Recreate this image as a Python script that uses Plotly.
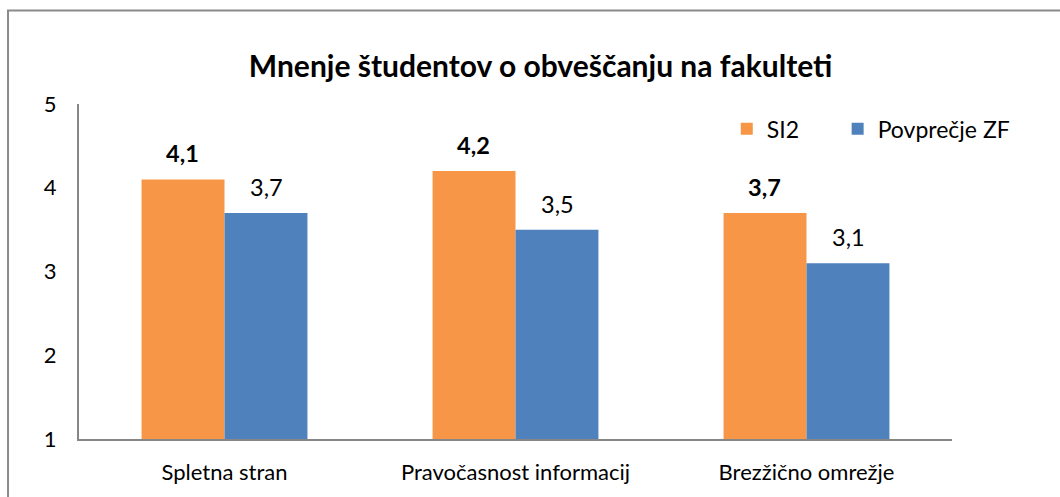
import plotly.graph_objects as go

categories = ["Spletna stran", "Pravočasnost informacij", "Brezžično omrežje"]
si2 = [4.1, 4.2, 3.7]
povprecje_zf = [3.7, 3.5, 3.1]
series_names = ["SI2", "Povprečje ZF"]
y_ticks = [1, 2, 3, 4, 5]

ORANGE = "#F79646"
BLUE = "#4F81BD"
AXIS = "#868686"
FONT = "Lato"

def fmt(v):
    return f"{v:.1f}".replace(".", ",")

fig = go.Figure()
fig.add_trace(go.Bar(x=categories, y=si2, name=series_names[0], legend="legend",
                     showlegend=True,
                     marker=dict(color=ORANGE, line=dict(width=0))))
fig.add_trace(go.Bar(x=categories, y=povprecje_zf, name=series_names[1], legend="legend2",
                     showlegend=True,
                     marker=dict(color=BLUE, line=dict(width=0))))

annotations = []
for c, v in zip(categories, si2):
    annotations.append(dict(x=c, y=v, xref="x", yref="y", text="<b>" + fmt(v) + "</b>",
                            showarrow=False, xshift=-42, yshift=26, yanchor="middle",
                            font=dict(family=FONT, size=23.5, color="black")))
for c, v in zip(categories, povprecje_zf):
    annotations.append(dict(x=c, y=v, xref="x", yref="y", text=fmt(v),
                            showarrow=False, xshift=42, yshift=26, yanchor="middle",
                            font=dict(family=FONT, size=23.5, color="black")))

legend_common = dict(orientation="h", xanchor="left", y=0.926, yanchor="middle",
                     font=dict(family=FONT, size=23, color="black"),
                     bgcolor="rgba(0,0,0,0)", itemwidth=30, visible=True)

fig.update_layout(
    width=1060, height=497,
    margin=dict(l=79, r=108, t=104, b=56),
    paper_bgcolor="white", plot_bgcolor="white",
    showlegend=True,
    barmode="group", bargap=0.43, bargroupgap=0,
    font=dict(family=FONT, size=22, color="black"),
    title=dict(text="<b>Mnenje študentov o obveščanju na fakulteti</b>",
               x=0.51, xanchor="center", y=1 - 66 / 497, yanchor="middle",
               font=dict(family=FONT, size=30, color="black")),
    legend=dict(x=0.742, **legend_common),
    legend2=dict(x=0.869, **legend_common),
    xaxis=dict(showline=True, linecolor=AXIS, linewidth=2, showgrid=False,
               ticks="", ticklabelstandoff=13, zeroline=False,
               tickfont=dict(family=FONT, size=22)),
    yaxis=dict(range=[1, 5], tickvals=y_ticks, showline=True, linecolor=AXIS, linewidth=2,
               showgrid=False, ticks="", ticklabelstandoff=16, zeroline=False,
               tickfont=dict(family=FONT, size=22)),
    annotations=annotations,
    shapes=[
        dict(type="path", xref="paper", yref="paper",
             path="M -0.0813,-0.5 L -0.0813,1.279 L 1.2,1.279",
             line=dict(color="#8A8A8A", width=2)),
    ],
)

fig.write_html("out.html")
